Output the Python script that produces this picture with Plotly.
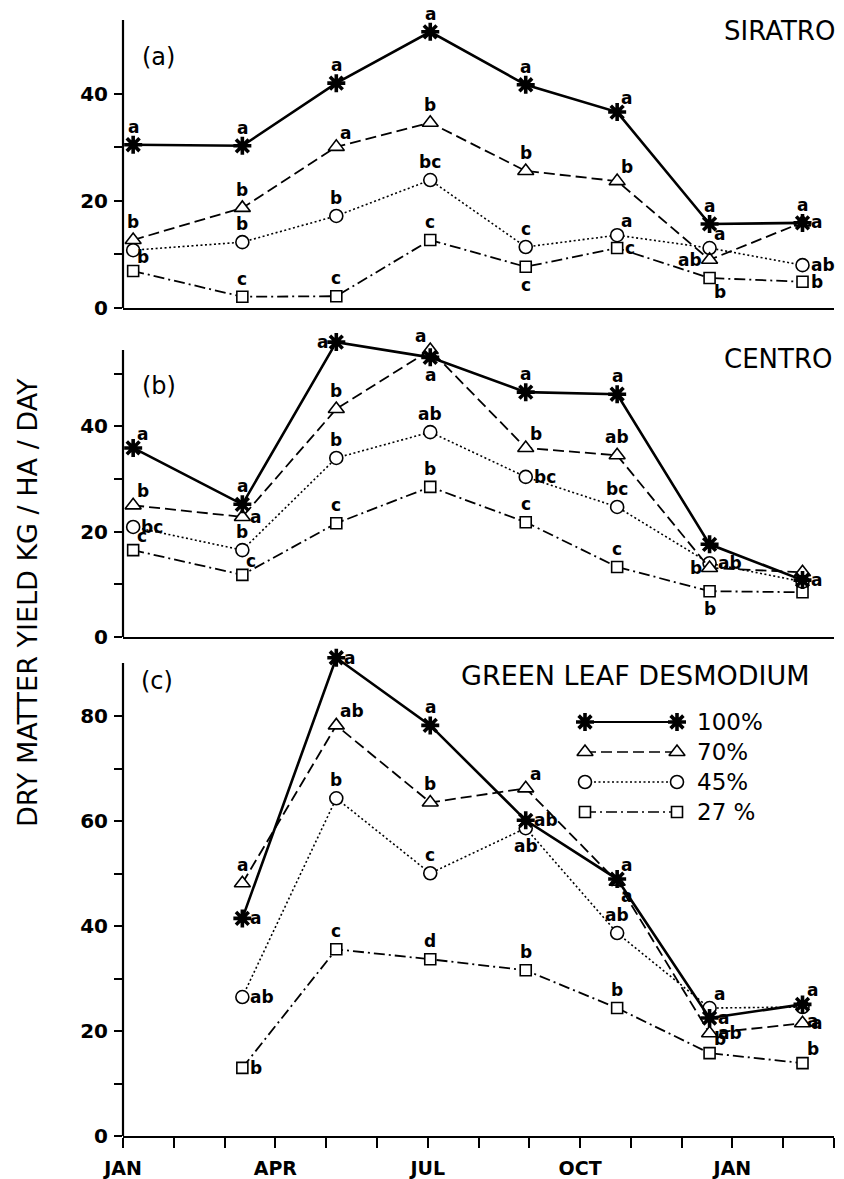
import plotly.graph_objects as go

# ---------------- data ----------------
MONTH_X = [0.2, 2.35, 4.2, 6.05, 7.93, 9.73, 11.55, 13.38]   # months from 1 Jan
MONTH_TICKS = list(range(0, 15))
MONTH_LABELS = ["JAN", "", "", "APR", "", "", "JUL", "", "", "OCT", "", "", "JAN", "", ""]

TREATMENTS = ["100%", "70%", "45%", "27 %"]

SIRATRO_100 = [30.5, 30.3, 42.0, 51.6, 41.7, 36.6, 15.7, 15.9]
SIRATRO_70 = [12.7, 18.7, 30.1, 34.6, 25.6, 23.7, 9.0, 16.0]
SIRATRO_45 = [10.8, 12.3, 17.2, 23.9, 11.4, 13.6, 11.2, 8.0]
SIRATRO_27 = [6.9, 2.1, 2.2, 12.7, 7.7, 11.2, 5.6, 4.9]

CENTRO_100 = [35.9, 25.2, 56.0, 53.1, 46.5, 46.1, 17.6, 10.8]
CENTRO_70 = [25.0, 22.8, 43.3, 54.5, 35.9, 34.5, 13.1, 12.3]
CENTRO_45 = [20.9, 16.5, 34.0, 38.9, 30.4, 24.7, 14.0, 10.5]
CENTRO_27 = [16.5, 11.8, 21.6, 28.5, 21.8, 13.3, 8.7, 8.5]

DESMO_100 = [None, 41.5, 91.2, 78.3, 60.2, 49.0, 22.5, 25.1]
DESMO_70 = [None, 48.2, 78.3, 63.6, 66.3, 48.5, 19.6, 21.5]
DESMO_45 = [None, 26.5, 64.4, 50.1, 58.7, 38.7, 24.4, 24.6]
DESMO_27 = [None, 13.0, 35.6, 33.7, 31.6, 24.4, 15.8, 13.9]

# significance letters: (letter, side)
SIRATRO_LET_100 = [("a", "n"), ("a", "n"), ("a", "n"), ("a", "n"), ("a", "n"), ("a", "ne"), ("a", "n"), ("a", "n")]
SIRATRO_LET_70 = [("b", "n"), ("b", "n"), ("a", "ne"), ("b", "n"), ("b", "n"), ("b", "ne"), ("ab", "w"), ("a", "e")]
SIRATRO_LET_45 = [None, ("b", "n"), ("b", "n"), ("bc", "n"), ("c", "n"), ("a", "ne"), ("a", "ne"), ("ab", "e")]
SIRATRO_LET_27 = [("b", "ne"), ("c", "n"), ("c", "n"), ("c", "n"), ("c", "s"), ("c", "e"), ("b", "se"), ("b", "e")]

CENTRO_LET_100 = [("a", "ne"), ("a", "n"), ("a", "w"), ("a", "s"), ("a", "n"), ("a", "n"), None, ("a", "e")]
CENTRO_LET_70 = [("b", "ne"), ("a", "e"), ("b", "n"), ("a", "nw"), ("b", "ne"), ("ab", "n"), ("b", "w"), None]
CENTRO_LET_45 = [("bc", "e"), ("b", "n"), ("b", "n"), ("ab", "n"), ("bc", "e"), ("bc", "n"), ("ab", "e"), None]
CENTRO_LET_27 = [("c", "ne"), ("c", "ne"), ("c", "n"), ("b", "n"), ("c", "n"), ("c", "n"), ("b", "s"), None]

DESMO_LET_100 = [None, ("a", "e"), ("a", "e"), ("a", "n"), ("ab", "e"), ("a", "ne"), ("a", "e"), ("a", "ne")]
DESMO_LET_70 = [None, ("a", "n"), ("ab", "ne"), ("b", "n"), ("a", "ne"), ("a", "se"), ("ab", "e"), ("a", "e")]
DESMO_LET_45 = [None, ("ab", "e"), ("b", "n"), ("c", "n"), ("ab", "s"), ("ab", "n"), ("a", "ne"), ("a", "se")]
DESMO_LET_27 = [None, ("b", "e"), ("c", "n"), ("d", "n"), ("b", "n"), ("b", "n"), ("b", "ne"), ("b", "ne")]

PANELS = [
    dict(tag="(a)", name="SIRATRO", series=[SIRATRO_100, SIRATRO_70, SIRATRO_45, SIRATRO_27],
         letters=[SIRATRO_LET_100, SIRATRO_LET_70, SIRATRO_LET_45, SIRATRO_LET_27]),
    dict(tag="(b)", name="CENTRO", series=[CENTRO_100, CENTRO_70, CENTRO_45, CENTRO_27],
         letters=[CENTRO_LET_100, CENTRO_LET_70, CENTRO_LET_45, CENTRO_LET_27]),
    dict(tag="(c)", name="GREEN LEAF DESMODIUM", series=[DESMO_100, DESMO_70, DESMO_45, DESMO_27],
         letters=[DESMO_LET_100, DESMO_LET_70, DESMO_LET_45, DESMO_LET_27]),
]

# ---------------- layout / styling ----------------
OFF = 8                       # page body margin of the browser
W, H = 844 - OFF, 1179 - OFF
ML = 123 - OFF
MR = W - (834 - OFF)
MB = H - (1136 - OFF)
MT = 0
PW, PH = W - ML - MR, H - MT - MB

def px_x(p):
    return (p - OFF - ML) / PW

def px_y(p):
    return (H - MB - (p - OFF)) / PH

FONT = "DejaVu Sans"

STYLES = [
    dict(symbol="asterisk", size=15, mcolor="black", lw=3.6, dash="solid", width=2.6),
    dict(symbol="triangle-up", size=14, mcolor="white", lw=1.6, dash="11px,5px", width=1.8),
    dict(symbol="circle", size=13, mcolor="white", lw=1.6, dash="2px,2.5px", width=1.6),
    dict(symbol="square", size=11, mcolor="white", lw=1.6, dash="11px,4px,2px,4px", width=1.8),
]

# pixel geometry of the three panels: (top of drawn axis, bottom) and axis extents
PANEL_PIX = [(20, 308), (350, 637), (663, 1136)]
AXIS_TOP = [53.8, 54.5, 90.2]     # value at the top of the drawn y-axis line
YMAX = [53.8, 57.5, 92.5]         # plotting range (room for points above the axis line)
YTICKS = [[0, 10, 20, 30, 40], [0, 10, 20, 30, 40, 50], [0, 10, 20, 30, 40, 50, 60, 70, 80]]

fig = go.Figure()

SIDE = {
    "n": dict(xanchor="center", yanchor="bottom", xshift=0, yshift=6),
    "s": dict(xanchor="center", yanchor="top", xshift=0, yshift=-6),
    "e": dict(xanchor="left", yanchor="middle", xshift=6, yshift=0),
    "w": dict(xanchor="right", yanchor="middle", xshift=-6, yshift=0),
    "ne": dict(xanchor="left", yanchor="bottom", xshift=2, yshift=2),
    "se": dict(xanchor="left", yanchor="top", xshift=2, yshift=-2),
    "nw": dict(xanchor="right", yanchor="bottom", xshift=-2, yshift=2),
}

annotations = []
shapes = []
for pi, panel in enumerate(PANELS):
    ax = "" if pi == 0 else str(pi + 1)
    xa, ya = "x" + ax, "y" + ax
    for si in [3, 2, 1, 0]:
        st = STYLES[si]
        fig.add_trace(go.Scatter(
            x=MONTH_X, y=panel["series"][si], xaxis=xa, yaxis=ya,
            mode="lines+markers", cliponaxis=False, showlegend=False,
            line=dict(color="black", width=st["width"], dash=st["dash"]),
            marker=dict(symbol=st["symbol"], size=st["size"], color=st["mcolor"],
                        line=dict(color="black", width=st["lw"])),
            name=TREATMENTS[si],
        ))
    for si in range(4):
        for xi, lab in enumerate(panel["letters"][si]):
            yv = panel["series"][si][xi]
            if lab is None or yv is None:
                continue
            txt, side = lab
            annotations.append(dict(
                x=MONTH_X[xi], y=yv, xref=xa, yref=ya, text=txt, showarrow=False,
                font=dict(family=FONT, size=17, color="black", weight="bold"),
                **SIDE[side]))

    top, bot = PANEL_PIX[pi]
    scale = (bot - top) / AXIS_TOP[pi]
    dom = [px_y(bot), px_y(bot - YMAX[pi] * scale)]
    is_bottom = pi == 2
    # y-axis line drawn only up to AXIS_TOP
    shapes.append(dict(type="line", xref=xa + " domain", yref=ya, x0=0, x1=0, y0=0, y1=AXIS_TOP[pi],
                       line=dict(color="black", width=2.2), layer="above"))
    fig.update_layout(**{
        "xaxis" + ax: dict(
            domain=[0, 1], anchor=ya, range=[0, 14], showgrid=False, zeroline=False,
            showline=True, linecolor="black", linewidth=2.2,
            ticks="outside" if is_bottom else "", ticklen=10, tickwidth=2, tickcolor="black",
            tickvals=MONTH_TICKS, ticktext=MONTH_LABELS, showticklabels=is_bottom,
            tickfont=dict(family=FONT, size=19, color="black", weight="bold"),
            ticklabelstandoff=4,
        ),
        "yaxis" + ax: dict(
            domain=dom, anchor=xa, range=[0, YMAX[pi]], showgrid=False, zeroline=False,
            showline=False,
            ticks="outside", ticklen=8, tickwidth=2, tickcolor="black",
            tickvals=YTICKS[pi], ticktext=[str(v) if v % 20 == 0 else "" for v in YTICKS[pi]],
            tickfont=dict(family=FONT, size=20, color="black", weight="bold"),
            ticklabelstandoff=2,
        ),
    })

# panel labels and titles
TAG_POS = [(158, 57), (159, 386), (157, 681)]
TITLE_POS = [(837, "right", 31), (834, "right", 359), (812, "right", 675)]
for pi, panel in enumerate(PANELS):
    tx, ty = TAG_POS[pi]
    annotations.append(dict(x=px_x(tx), y=px_y(ty), xref="paper", yref="paper", text=panel["tag"],
                            showarrow=False, xanchor="center", yanchor="middle",
                            font=dict(family=FONT, size=24, color="black")))
    nx, anc, ny = TITLE_POS[pi]
    annotations.append(dict(x=px_x(nx), y=px_y(ny), xref="paper", yref="paper", text=panel["name"],
                            showarrow=False, xanchor=anc, yanchor="middle",
                            font=dict(family=FONT, size=26 if pi < 2 else 27, color="black")))

# y-axis title
annotations.append(dict(x=px_x(27), y=px_y(603), xref="paper", yref="paper",
                        text="DRY MATTER YIELD KG / HA / DAY", textangle=-90, showarrow=False,
                        xanchor="center", yanchor="middle",
                        font=dict(family=FONT, size=27, color="black")))

# legend drawn in a pixel-mapped overlay axis
LEG_X0, LEG_X1, LEG_TEXT_X = 585, 677, 695
LEG_Y0, LEG_DY = 722, 30
for si in range(4):
    st = STYLES[si]
    ry = LEG_Y0 + si * LEG_DY
    fig.add_trace(go.Scatter(
        x=[LEG_X0, LEG_X1], y=[ry, ry], xaxis="x4", yaxis="y4", mode="lines+markers",
        showlegend=False, cliponaxis=False, hoverinfo="skip",
        line=dict(color="black", width=st["width"] * 0.8, dash=st["dash"]),
        marker=dict(symbol=st["symbol"], size=st["size"], color=st["mcolor"],
                    line=dict(color="black", width=st["lw"])),
    ))
    annotations.append(dict(x=LEG_TEXT_X, y=ry, xref="x4", yref="y4", text=TREATMENTS[si],
                            showarrow=False, xanchor="left", yanchor="middle",
                            font=dict(family=FONT, size=23, color="black")))

fig.update_layout(
    xaxis4=dict(domain=[0, 1], anchor="y4", range=[ML + OFF, W - MR + OFF], visible=False),
    yaxis4=dict(domain=[0, 1], anchor="x4", range=[H - MB + OFF, MT + OFF], visible=False),
)

fig.update_layout(
    width=W, height=H, margin=dict(l=ML, r=MR, t=MT, b=MB),
    paper_bgcolor="white", plot_bgcolor="rgba(0,0,0,0)", showlegend=False,
    annotations=annotations, shapes=shapes, font=dict(family=FONT, color="black"),
)

fig.write_html("out.html")
